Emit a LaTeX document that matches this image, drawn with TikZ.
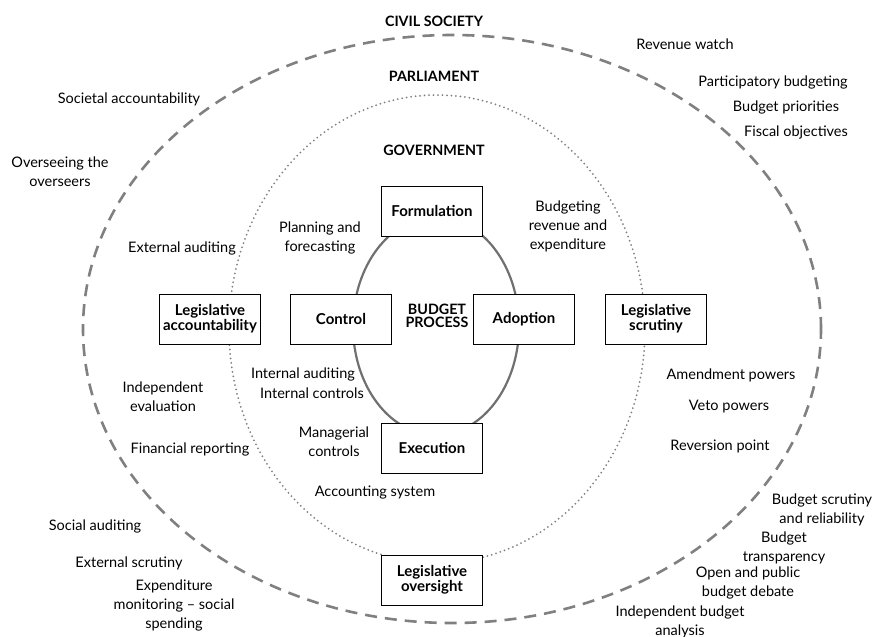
\documentclass[tikz,border=0pt]{standalone}
\usepackage{fontspec}
\setmainfont{Lato}
\definecolor{ringgray}{RGB}{128,128,128}
\definecolor{cyclegray}{RGB}{112,112,112}
\begin{document}
\begin{tikzpicture}[x=1pt,y=-1pt,
    font=\fontsize{14.5}{19}\selectfont,
    stagebox/.style={draw,fill=white,minimum width=101pt,minimum height=50pt,
      inner sep=1pt,align=center,font=\fontsize{15}{17}\selectfont\bfseries},
    tag/.style={align=center,inner sep=0pt},
    ringtitle/.style={inner sep=0pt,font=\fontsize{14.3}{16}\selectfont\bfseries}]

  \useasboundingbox (0,0) rectangle (873,637);

  \draw[ringgray,line width=2.6pt,dash pattern=on 12pt off 8pt]
    (452,329) ellipse [x radius=369pt,y radius=294pt];
  \draw[ringgray,line width=2pt,line cap=round,dash pattern=on 0pt off 4.5pt]
    (437,329) ellipse [x radius=208pt,y radius=234pt];
  \draw[cyclegray,line width=2.2pt]
    (436,326) ellipse [x radius=83pt,y radius=109pt];

  \begin{scope}[every node/.style=ringtitle]
    \node (civil) at (434,21)  {CIVIL SOCIETY};
    \node (parl)  at (434,76)  {PARLIAMENT};
    \node (gov)   at (434,150) {GOVERNMENT};
    \node (proc)  at (437,316) [align=center] {BUDGET\\[-3pt]PROCESS};
  \end{scope}

  \begin{scope}[every node/.style=stagebox]
    \node (form)  at (432,211) {Formulation};
    \node (ctrl)  at (341,319) {Control};
    \node (adopt) at (524,319) {Adoption};
    \node (exec)  at (432,448) {Execution};
    \node (lacc)  at (210,319) {Legislative\\[-2pt]accountability};
    \node (lscr)  at (656,319) {Legislative\\[-2pt]scrutiny};
    \node (lovs)  at (432,580) {Legislative\\[-2pt]oversight};
  \end{scope}

  \begin{scope}[every node/.style=tag]
    \node (revwatch) at (685,44)  {Revenue watch};
    \node (partbud)  at (773,82)  {Participatory budgeting};
    \node (budprio)  at (786,107) {Budget priorities};
    \node (fiscobj)  at (796,132) {Fiscal objectives};
    \node (societal) at (129,99)  {Societal accountability};
    \node (oversee)  at (60,172)  {Overseeing the\\overseers};
    \node (extaud)   at (182,248) {External auditing};
    \node (planning) at (320,238) {Planning and\\forecasting};
    \node (budrev)   at (568,226) {Budgeting\\revenue and\\expenditure};
    \node (intaud)   at (303,374) {Internal auditing};
    \node (intctrl)  at (312,393) {Internal controls};
    \node (indeval)  at (163,397) {Independent\\evaluation};
    \node (amend)    at (731,375) {Amendment powers};
    \node (veto)     at (729,407) {Veto powers};
    \node (revpt)    at (720,446) {Reversion point};
    \node (finrep)   at (190,449) {Financial reporting};
    \node (manctrl)  at (334,442) {Managerial\\controls};
    \node (acctsys)  at (375,493) {Accounting system};
    \node (socaud)   at (95,526)  {Social auditing};
    \node (extscr)   at (129,563) {External scrutiny};
    \node (expmon)   at (174,605) {Expenditure\\monitoring -- social\\spending};
    \node (budscr)   at (822,510) {Budget scrutiny\\and reliability};
    \node (budtra)   at (784,548) {Budget\\transparency};
    \node (opendeb)  at (748,583) {Open and public\\budget debate};
    \node (indbud)   at (680,622) {Independent budget\\analysis};
  \end{scope}

\end{tikzpicture}
\end{document}
